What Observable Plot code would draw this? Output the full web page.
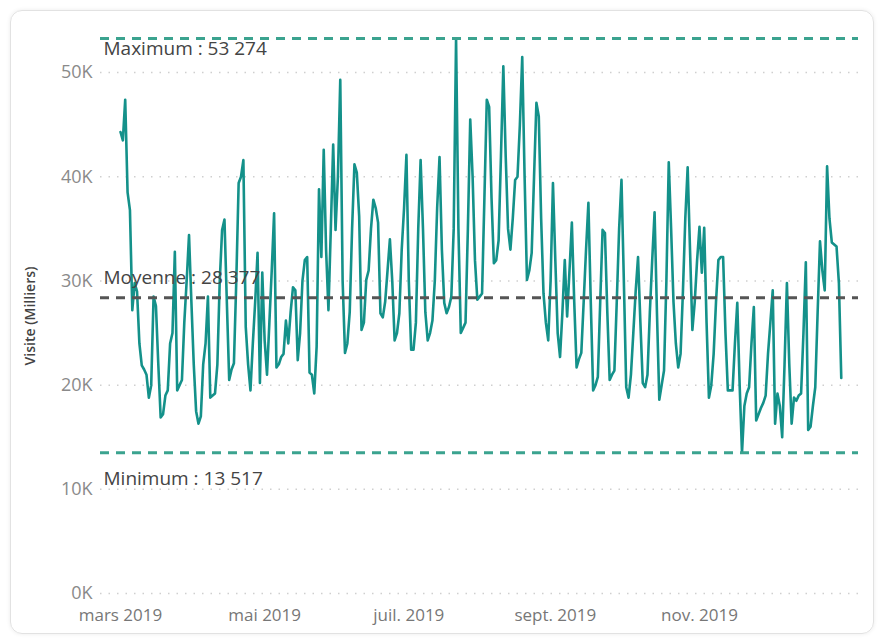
<!DOCTYPE html>
<html>
<head>
<meta charset="utf-8">
<script src="https://cdn.jsdelivr.net/npm/d3@7"></script>
<script src="https://cdn.jsdelivr.net/npm/@observablehq/plot@0.6"></script>
<style>
  html, body { margin: 0; padding: 0; background: #fff; }
  body { width: 881px; height: 641px; position: relative; overflow: hidden; font-family: "Open Sans", "Noto Sans", sans-serif; }
  #card { position: absolute; left: 10px; top: 10px; width: 862px; height: 622px; border: 1px solid #e2e2e2; border-radius: 12px; box-shadow: 0 0 4px rgba(0,0,0,0.08); }
  #chart { position: absolute; left: 0; top: 0; }
</style>
</head>
<body>
<div id="card"></div>
<div id="chart"></div>
<script>
// Daily visits (thousands), from 1 March 2019
const startDate = "2019-03-01";
const visits = [
  44.3, 43.5, 47.4, 38.5, 36.8, 27.2, 29.8, 29, 24, 21.9,
  21.5, 21, 18.8, 20, 28.5, 27.6, 22, 16.9, 17.2, 19,
  19.5, 24, 25, 32.8, 19.5, 20, 20.5, 26, 30, 34.4,
  28, 22, 17.5, 16.3, 17, 22, 24, 28.5, 18.8, 19,
  19.2, 22, 30, 34.9, 35.9, 28, 20.5, 21.5, 22.1, 30,
  39.4, 40, 41.6, 25.6, 22, 19.5, 24, 28, 32.7, 20.2,
  30.8, 24.3, 21, 26, 31, 36.5, 21.7, 22, 22.7, 23,
  26.2, 24, 27, 29.4, 29.1, 22.4, 25, 30, 32, 32.3,
  21.2, 21, 19.2, 23.7, 38.8, 32.3, 42.6, 33, 27.2, 35,
  43.1, 34.9, 40, 49.3, 30, 23.1, 24, 27, 35, 41.2,
  40.4, 36.2, 25.3, 26, 30.1, 31, 35, 37.8, 37, 35.6,
  26.9, 26.5, 28, 31, 34, 30, 24.3, 25, 26.9, 33,
  37, 42.1, 30, 23.4, 23.4, 26, 35, 41.6, 35, 27,
  24.3, 25, 26.2, 30, 37, 41.9, 33, 27.9, 26.9, 27.5,
  28.5, 35, 53.274, 35, 25, 25.5, 26, 35, 45.5, 40,
  32, 28.2, 28.5, 28.8, 38, 47.4, 46.7, 38, 31.7, 32,
  33.9, 42, 50.6, 42, 35, 33, 36, 39.7, 40, 45,
  51.5, 40, 30.1, 31, 32.7, 40, 47.1, 45.8, 36, 28.8,
  26, 24.3, 30, 39.4, 32, 25, 22.7, 27, 32, 26.6,
  31, 35.6, 28, 21.7, 22.5, 23.1, 28, 33, 37.5, 28,
  19.5, 20, 20.8, 28, 34.9, 34.6, 27, 20.5, 21, 21.4,
  28, 35, 39.7, 30, 19.8, 18.8, 21, 25, 29, 32.3,
  26, 20.2, 19.8, 21, 27, 32, 36.6, 27, 18.6, 20,
  21.4, 30, 41.4, 35, 28, 24, 21.7, 23, 29, 36,
  40.9, 33, 25.3, 28, 32, 35.2, 30.8, 35.1, 26, 18.8,
  20, 23, 28, 32, 32.3, 32.3, 25, 19.5, 19.5, 19.5,
  24, 27.9, 20, 13.517, 18, 19.2, 19.8, 24, 27.5, 16.6,
  17.2, 17.8, 18.3, 19, 23, 26, 29.1, 16.3, 19.2, 18,
  15, 22, 29.8, 22, 16.3, 18.8, 18.5, 19, 19.2, 25,
  31.8, 15.7, 16, 18, 19.8, 27, 33.8, 31, 29.1, 41,
  36, 33.7, 33.5, 33.3, 29.8, 20.7
];

// Reference lines (thousands)
const refNames = ["Maximum", "Moyenne", "Minimum"];
const refValues = [53.274, 28.377, 13.517];
const refColors = ["#3ba38f", "#555555", "#3ba38f"];

// Axis ticks
const yTicks = [0, 10, 20, 30, 40, 50];
const xTickDates = ["2019-03-01", "2019-05-01", "2019-07-01", "2019-09-01", "2019-11-01"];
const xTickLabels = ["mars 2019", "mai 2019", "juil. 2019", "sept. 2019", "nov. 2019"];
const xDomain = ["2019-02-20T13:00Z", "2020-01-07T07:00Z"];

const t0 = new Date(startDate + "T00:00Z");
const data = visits.map((v, i) => ({ date: d3.utcDay.offset(t0, i), v }));
const refs = refNames.map((n, i) => ({ name: n, v: refValues[i], color: refColors[i] }));
const frFmt = (k) => d3.format(",")(Math.round(k * 1000)).replace(/,/g, " ");
const tickDates = xTickDates.map(s => new Date(s + "T00:00Z"));
const labelOf = new Map(tickDates.map((d, i) => [+d, xTickLabels[i]]));

const font = "'Open Sans', 'Noto Sans', sans-serif";
const refText = d => d.name + " : " + frFmt(d.v);

const plot = Plot.plot({
  width: 881,
  height: 641,
  marginLeft: 100,
  marginRight: 23,
  marginTop: 38,
  marginBottom: 48,
  style: { fontFamily: font, background: "transparent", overflow: "visible" },
  x: { type: "utc", domain: xDomain.map(s => new Date(s)) },
  y: { domain: [0, refValues[0]] },
  marks: [
    Plot.gridY(yTicks, { stroke: "#cfcfcf", strokeOpacity: 1, strokeWidth: 1.5, strokeDasharray: "1.5,7" }),
    Plot.axisY(yTicks, { tickSize: 0, tickPadding: 8, tickFormat: d => d + "K", fontSize: 18, fill: "#8a8a8a", label: null }),
    Plot.axisX(tickDates, { tickSize: 0, tickPadding: 15, tickFormat: d => labelOf.get(+d), fontSize: 17, fill: "#777", label: null }),
    Plot.line(data, { x: "date", y: "v", stroke: "#14918a", strokeWidth: 2.6, strokeLinejoin: "round" }),
    Plot.ruleY(refs, { y: "v", stroke: "color", strokeWidth: 3, strokeDasharray: "9,7" }),
    Plot.text(refs.slice(0, 1), { y: "v", frameAnchor: "left", textAnchor: "start", lineAnchor: "top", dx: 3, dy: 3, text: refText, fontSize: 19, fill: "#444" }),
    Plot.text(refs.slice(1, 2), { y: "v", frameAnchor: "left", textAnchor: "start", lineAnchor: "bottom", dx: 3, dy: -14, text: refText, fontSize: 19, fill: "#444" }),
    Plot.text(refs.slice(2, 3), { y: "v", frameAnchor: "left", textAnchor: "start", lineAnchor: "top", dx: 3, dy: 19, text: refText, fontSize: 19, fill: "#444" }),
    Plot.text(["Visite (Milliers)"], { frameAnchor: "left", textAnchor: "middle", dx: -70, rotate: -90, text: d => d, fontSize: 14, fontWeight: 600, fill: "#444" })
  ]
});
document.getElementById("chart").appendChild(plot);
</script>
</body>
</html>
